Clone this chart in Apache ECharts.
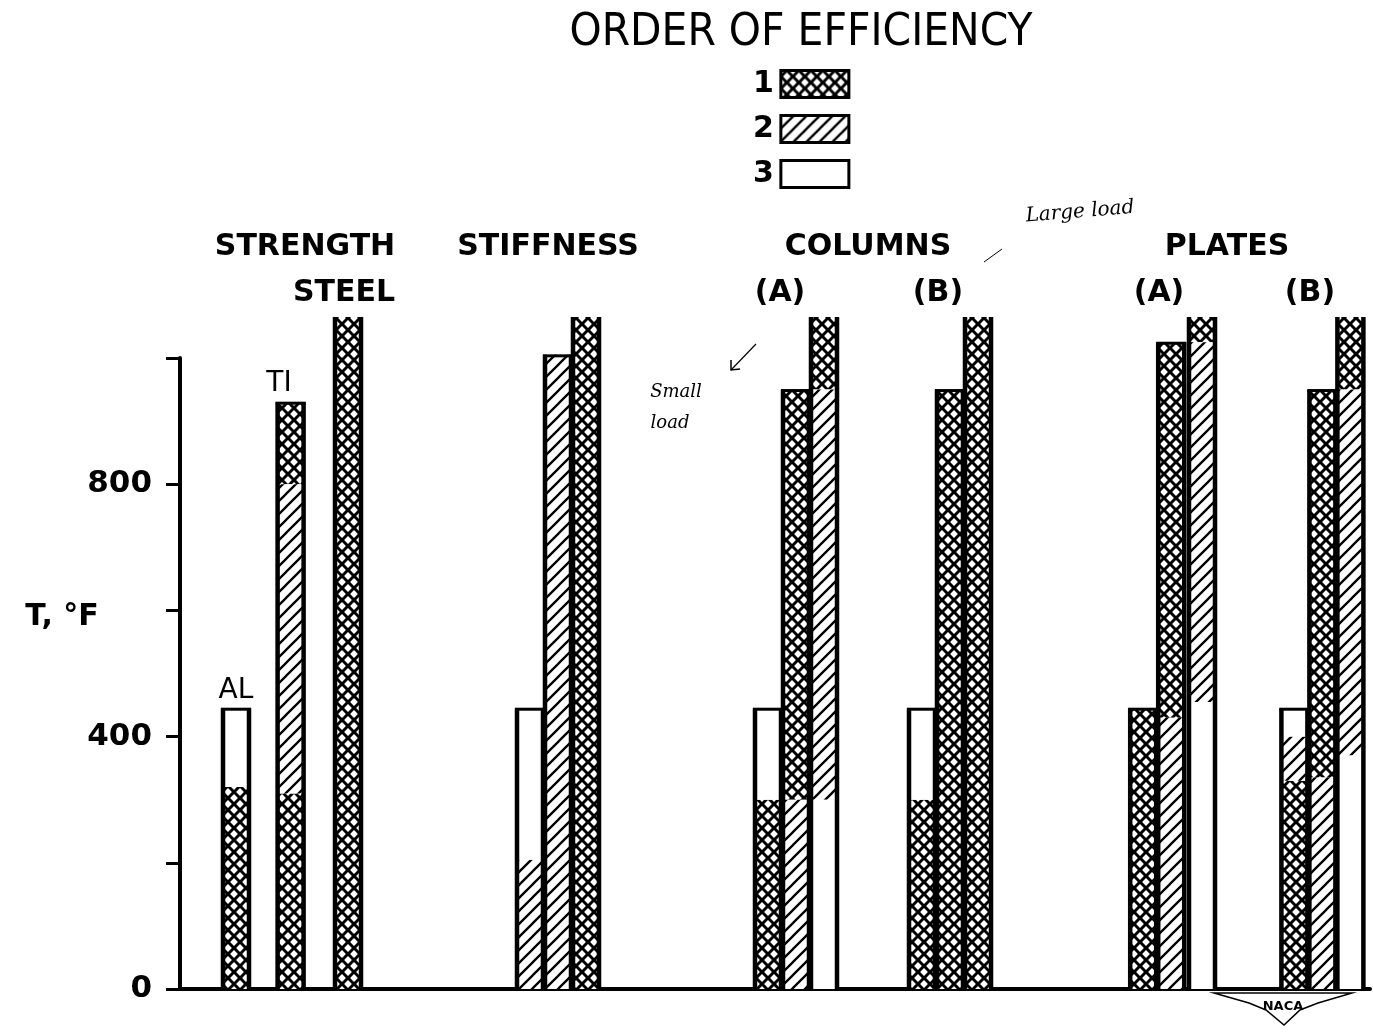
<!DOCTYPE html>
<html>
<head>
<meta charset="utf-8">
<script src="https://cdn.jsdelivr.net/npm/echarts@6/dist/echarts.min.js"></script>
<style>
  html, body { margin: 0; padding: 0; background: #fff; }
  #main { width: 1373px; height: 1032px; }
</style>
</head>
<body>
<div id="main"></div>
<script>
// bar slots on the x axis, one unit = one bar width
var barPos = [2, 3.95, 6, 12.5, 13.5, 14.5, 21, 22, 23, 26.5, 27.5, 28.5, 34.4, 35.4, 36.5, 39.8, 40.8, 41.8];
// temperature where each bar stops (1065 = runs off the top of the scale)
var barTop = [445, 930, 1065, 445, 1005, 1065, 445, 950, 1065, 445, 950, 1065, 445, 1025, 1065, 445, 950, 1065];
// segment limits from the bottom up, and the efficiency order of each segment
var segBreaks = [
  [0, 320, 445],
  [0, 310, 800, 930],
  [0, 1065],
  [0, 205, 445],
  [0, 1005],
  [0, 1065],
  [0, 300, 445],
  [0, 300, 950],
  [0, 300, 950, 1065],
  [0, 300, 445],
  [0, 950],
  [0, 1065],
  [0, 445],
  [0, 430, 1025],
  [0, 455, 1025, 1065],
  [0, 330, 400, 445],
  [0, 335, 950],
  [0, 370, 950, 1065]
];
var segRanks = [
  [1, 3],
  [1, 2, 1],
  [1],
  [2, 3],
  [2],
  [1],
  [1, 3],
  [2, 1],
  [3, 2, 1],
  [1, 3],
  [1],
  [1],
  [1],
  [2, 1],
  [3, 2, 1],
  [1, 2, 3],
  [2, 1],
  [3, 2, 1]
];
var rankNames = ['1', '2', '3'];
var yLabelled = [0, 400, 800];

// fill patterns
function crossTile() {
  var a = 12, h = 3.9;
  var c = document.createElement('canvas');
  c.width = a; c.height = a;
  var g = c.getContext('2d');
  g.fillStyle = '#000';
  g.fillRect(0, 0, a, a);
  g.fillStyle = '#fff';
  [[a / 2, a / 2], [0, 0], [a, 0], [0, a], [a, a]].forEach(function (p) {
    g.beginPath();
    g.moveTo(p[0], p[1] - h); g.lineTo(p[0] + h, p[1]); g.lineTo(p[0], p[1] + h); g.lineTo(p[0] - h, p[1]);
    g.closePath();
    g.fill();
  });
  return c;
}
function hatchTile() {
  var c = document.createElement('canvas');
  c.width = 13; c.height = 13;
  var g = c.getContext('2d');
  g.fillStyle = '#fff';
  g.fillRect(0, 0, 13, 13);
  g.strokeStyle = '#000';
  g.lineWidth = 2.3;
  g.beginPath();
  g.moveTo(-2, 15); g.lineTo(15, -2);
  g.moveTo(-8, 8); g.lineTo(8, -8);
  g.moveTo(5, 21); g.lineTo(21, 5);
  g.stroke();
  return c;
}
var fills = [
  { image: crossTile(), repeat: 'repeat' },
  { image: hatchTile(), repeat: 'repeat' },
  '#fff'
];

var segData = [[], [], []];
barPos.forEach(function (p, i) {
  segRanks[i].forEach(function (r, k) {
    segData[r - 1].push([p, segBreaks[i][k], segBreaks[i][k + 1]]);
  });
});

var myChart = echarts.init(document.getElementById('main'));

var labelFont = 'bold 30px "DejaVu Sans"';
function txt(text, x, y, font, extra) {
  var el = {
    type: 'text', x: x, y: y, silent: true,
    style: { text: text, font: font, fill: '#000', textAlign: 'center', textVerticalAlign: 'middle' }
  };
  if (extra) for (var k in extra) el[k] = extra[k];
  return el;
}

var segSeries = rankNames.map(function (name, r) {
  return {
    name: name,
    type: 'custom',
    itemStyle: { color: fills[r], borderColor: '#000', borderWidth: 3 },
    encode: { x: 0, y: [1, 2] },
    renderItem: function (params, api) {
      var lo = api.coord([api.value(0), api.value(1)]);
      var hi = api.coord([api.value(0), api.value(2)]);
      var w = api.size([1, 0])[0];
      return {
        type: 'rect',
        shape: { x: lo[0] - w / 2, y: hi[1], width: w, height: lo[1] - hi[1] },
        style: { fill: fills[r], stroke: null }
      };
    },
    data: segData[r],
    z: 2
  };
});

var outlineSeries = {
  name: 'outline',
  type: 'custom',
  silent: true,
  encode: { x: 0, y: 1 },
  renderItem: function (params, api) {
    var b = api.coord([api.value(0), 0]);
    var t = api.coord([api.value(0), api.value(1)]);
    var w = api.size([1, 0])[0];
    var l = b[0] - w / 2 + 1, r = b[0] + w / 2 - 1;
    var kids = [
      { type: 'line', shape: { x1: l, y1: b[1], x2: l, y2: t[1] }, style: { stroke: '#000', lineWidth: 4.5 } },
      { type: 'line', shape: { x1: r, y1: b[1], x2: r, y2: t[1] }, style: { stroke: '#000', lineWidth: 4.5 } }
    ];
    if (api.value(1) <= 1040) {
      kids.push({ type: 'line', shape: { x1: l - 2, y1: t[1] + 1, x2: r + 2, y2: t[1] + 1 }, style: { stroke: '#000', lineWidth: 3 } });
    }
    return { type: 'group', children: kids };
  },
  data: barPos.map(function (p, i) { return [p, barTop[i]]; }),
  z: 3
};

myChart.setOption({
  backgroundColor: '#fff',
  animation: false,
  legend: {
    data: rankNames,
    orient: 'vertical',
    left: 748,
    top: 64,
    align: 'right',
    icon: 'rect',
    itemWidth: 68,
    itemHeight: 27,
    itemGap: 15,
    selectedMode: false,
    itemStyle: { borderColor: '#000', borderWidth: 3 },
    textStyle: { color: '#000', fontFamily: 'DejaVu Sans', fontWeight: 'bold', fontSize: 30, padding: [0, 2, 0, 0] }
  },
  grid: { left: 180, right: 3, top: 358, bottom: 43 },
  xAxis: {
    type: 'value',
    min: 0,
    max: 42.5,
    axisLine: { show: true, onZero: false, lineStyle: { color: '#000', width: 4 } },
    axisTick: { show: false },
    axisLabel: { show: false },
    splitLine: { show: false }
  },
  yAxis: {
    type: 'value',
    min: 0,
    max: 1000,
    interval: 200,
    axisLine: { show: true, lineStyle: { color: '#000', width: 4 } },
    axisTick: { show: true, length: 14, lineStyle: { color: '#000', width: 3 } },
    axisLabel: {
      margin: 28,
      color: '#000',
      fontFamily: 'DejaVu Sans',
      fontWeight: 'bold',
      fontSize: 31,
      formatter: function (v) { return yLabelled.indexOf(v) >= 0 ? String(v) : ''; }
    },
    splitLine: { show: false }
  },
  graphic: [
    txt('ORDER OF EFFICIENCY', 801, 34, '44px "DejaVu Sans"', { scaleX: 0.93 }),
    txt('STRENGTH', 305, 247, labelFont),
    txt('STIFFNESS', 548, 247, labelFont),
    txt('COLUMNS', 868, 247, labelFont),
    txt('PLATES', 1227, 247, labelFont),
    txt('STEEL', 344, 293, labelFont),
    txt('(A)', 780, 293, labelFont),
    txt('(B)', 938, 293, labelFont),
    txt('(A)', 1159, 293, labelFont),
    txt('(B)', 1310, 293, labelFont),
    txt('AL', 236, 691, '28px "DejaVu Sans"'),
    txt('TI', 279, 384, '28px "DejaVu Sans"'),
    txt('T, °F', 62, 617, labelFont),
    txt('Large load', 1080, 212, 'italic 20px "DejaVu Serif"', { rotation: 0.08 }),
    txt('Small', 676, 392, 'italic 18px "DejaVu Serif"'),
    txt('load', 670, 423, 'italic 18px "DejaVu Serif"'),
    { type: 'line', silent: true, shape: { x1: 984, y1: 262, x2: 1002, y2: 249 }, style: { stroke: '#000', lineWidth: 1 } },
    { type: 'polyline', silent: true, shape: { points: [[756, 344], [731, 370]] }, style: { stroke: '#000', lineWidth: 1.2 } },
    { type: 'polyline', silent: true, shape: { points: [[731, 360], [731, 370], [740, 369]] }, style: { stroke: '#000', lineWidth: 1.5, fill: null } },
    {
      type: 'polygon', silent: true,
      shape: { points: [[1214, 993], [1352, 993], [1318, 1003], [1300, 1010], [1284, 1025], [1266, 1010], [1249, 1003]] },
      style: { fill: '#fff', stroke: '#000', lineWidth: 1.5 }
    },
    txt('NACA', 1283, 1007, 'bold 13px "DejaVu Sans"')
  ],
  series: segSeries.concat([outlineSeries])
});

window.addEventListener('resize', function () {
  myChart.resize();
});
</script>
</body>
</html>
